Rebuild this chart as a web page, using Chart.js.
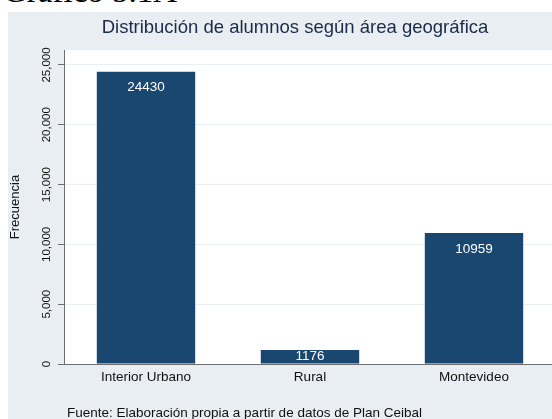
<!DOCTYPE html>
<html>
<head>
<meta charset="utf-8">
<script src="https://cdn.jsdelivr.net/npm/chart.js@4/dist/chart.umd.min.js"></script>
<style>
    html, body { margin: 0; padding: 0; background: #ffffff; overflow: hidden; }
    body { width: 552px; height: 419px; position: relative; }
    #caption {
        position: absolute; left: 3px; top: -25px;
        font-family: "Liberation Serif", "Times New Roman", serif;
        font-size: 33px; line-height: 33px; color: #000; white-space: nowrap;
    }
    #wrap {
        position: absolute; left: 8px; top: 12px;
        width: 574px; height: 407px; background: #e8eef1;
    }
    #areaChart { display: block; }
</style>
</head>
<body>
<div id="caption">Gráfico 5.1A</div>
<div id="wrap"><canvas id="areaChart" width="574" height="407"></canvas></div>
<script>
// Datos
const areas = ['Interior Urbano', 'Rural', 'Montevideo'];
const alumnos = [24430, 1176, 10959];
const yTicks = [0, 5000, 10000, 15000, 20000, 25000];
const yMax = 26250;

const titulo = 'Distribución de alumnos según área geográfica';
const fuente = 'Fuente: Elaboración propia a partir de datos de Plan Ceibal';

const sans = '"Liberation Sans", Arial, Helvetica, sans-serif';

// fondo blanco del area de graficos
const plotBg = {
    id: 'plotBg',
    beforeDraw(chart) {
        const { ctx, chartArea } = chart;
        ctx.save();
        ctx.fillStyle = '#ffffff';
        ctx.fillRect(chartArea.left, chartArea.top, chartArea.right - chartArea.left, chartArea.bottom - chartArea.top);
        ctx.restore();
    }
};

// titulo, etiquetas dentro de las barras y nota al pie
const textos = {
    id: 'textos',
    afterDatasetsDraw(chart) {
        const { ctx } = chart;
        const meta = chart.getDatasetMeta(0);
        ctx.save();
        ctx.fillStyle = '#ffffff';
        ctx.font = '13.5px ' + sans;
        ctx.textAlign = 'center';
        ctx.textBaseline = 'middle';
        meta.data.forEach((bar, i) => {
            const y = Math.min(bar.y + 16, (bar.y + bar.base) / 2);
            ctx.fillText(String(alumnos[i]), bar.x, y);
        });

        ctx.fillStyle = '#1b2a47';
        ctx.font = '18.5px ' + sans;
        ctx.fillText(titulo, chart.width / 2, 15.5);

        ctx.fillStyle = '#111111';
        ctx.textAlign = 'left';
        ctx.font = '13.5px ' + sans;
        ctx.fillText(fuente, chart.chartArea.left + 3, 401);
        ctx.restore();
    }
};

const ctx = document.getElementById('areaChart').getContext('2d');
new Chart(ctx, {
    type: 'bar',
    data: {
        labels: areas,
        datasets: [{
            label: 'Frecuencia',
            data: alumnos,
            backgroundColor: '#1a476f',
            borderWidth: 0,
            barPercentage: 0.6,
            categoryPercentage: 1.0
        }]
    },
    options: {
        responsive: false,
        animation: false,
        devicePixelRatio: 1,
        layout: { padding: { left: 0, right: 26, top: 38, bottom: 30 } },
        plugins: {
            legend: { display: false },
            tooltip: { enabled: false },
            title: { display: false }
        },
        scales: {
            x: {
                grid: { display: false, drawTicks: false },
                border: { display: true, color: '#6e6e6e', width: 1 },
                ticks: {
                    color: '#111111',
                    font: { family: sans, size: 13.5 },
                    padding: 5,
                    maxRotation: 0
                },
                afterFit(scale) { scale.height = 25; }
            },
            y: {
                min: 0,
                max: yMax,
                afterBuildTicks(scale) {
                    scale.ticks = yTicks.map(v => ({ value: v }));
                },
                grid: {
                    color: ctx => ctx.tick && ctx.tick.value === 0 ? 'rgba(0,0,0,0)' : '#e9f0f3',
                    tickColor: '#6e6e6e',
                    tickLength: 6,
                    lineWidth: 1
                },
                border: { display: true, color: '#6e6e6e', width: 1 },
                ticks: {
                    color: '#111111',
                    font: { family: sans, size: 11.5 },
                    minRotation: 90,
                    maxRotation: 90,
                    crossAlign: 'center',
                    padding: -6,
                    callback: function(value) {
                        return value.toLocaleString('en-US');
                    }
                },
                title: {
                    display: true,
                    text: 'Frecuencia',
                    color: '#111111',
                    font: { family: sans, size: 13 },
                    padding: { top: 0, bottom: 0 }
                },
                afterFit(scale) { scale.width = 56; }
            }
        }
    },
    plugins: [plotBg, textos]
});
</script>
</body>
</html>
